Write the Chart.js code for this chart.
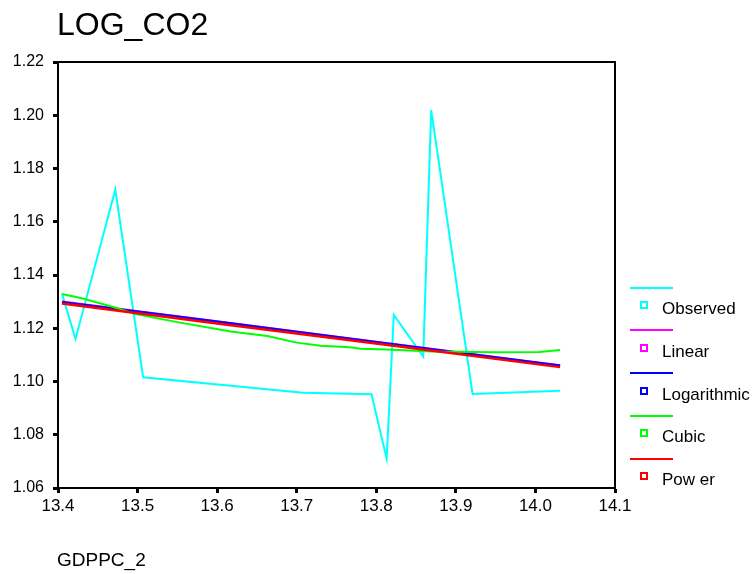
<!DOCTYPE html>
<html lang="en">
<head>
    <meta charset="UTF-8">
    <script src="https://cdn.jsdelivr.net/npm/chart.js@4.4.1/dist/chart.umd.min.js"></script>
    <title>LOG_CO2</title>
    <style>
        body { margin: 0; background: #fff; font-family: "Liberation Sans", Arial, sans-serif; }
        .wrap { position: relative; width: 754px; height: 574px; }
        .lbl { position: absolute; color: #000; white-space: nowrap; }
        .title { left: 57px; top: 8px; font-size: 32px; line-height: 32px; }
        .xtitle { left: 57px; top: 550px; font-size: 19px; line-height: 19px; }
        .legline { position: absolute; left: 630px; width: 43px; height: 2px; }
        .legbox { position: absolute; left: 640px; width: 4px; height: 4px; border: 2px solid; background: #fff; }
        .legtext { position: absolute; left: 662px; font-size: 17px; line-height: 17px; }
    </style>
</head>
<body>
    <div class="wrap" id="wrap">
        <canvas id="chart" width="754" height="574"></canvas>
        <div class="lbl title">LOG_CO2</div>
        <div class="lbl xtitle">GDPPC_2</div>
    </div>

    <script>
        // values
        const obsX = [13.405, 13.422, 13.472, 13.507, 13.708, 13.794, 13.813, 13.822, 13.859, 13.869, 13.921, 14.031];
        const obsY = [1.133, 1.116, 1.172, 1.1016, 1.0958, 1.0952, 1.071, 1.125, 1.1094, 1.202, 1.0953, 1.0965];

        const fitX = [13.405, 13.6, 13.817, 14.031];
        const linearY = [1.1300, 1.1225, 1.1142, 1.1060];
        const logY = [1.1298, 1.1224, 1.1141, 1.1059];
        const powerY = [1.1293, 1.1218, 1.1136, 1.1054];

        const cubicX = [13.405, 13.43, 13.474, 13.496, 13.55, 13.617, 13.663, 13.70, 13.73, 13.767, 13.78, 13.813, 13.87, 13.95, 14.005, 14.031];
        const cubicY = [1.1329, 1.1313, 1.1276, 1.1254, 1.1223, 1.1188, 1.1171, 1.1146, 1.1134, 1.1129, 1.1123, 1.1120, 1.1113, 1.1110, 1.1111, 1.1118];

        const xTicks = [13.4, 13.5, 13.6, 13.7, 13.8, 13.9, 14.0, 14.1];
        const yTicks = [1.06, 1.08, 1.10, 1.12, 1.14, 1.16, 1.18, 1.20, 1.22];

        const names = ["Observed", "Linear", "Logarithmic", "Cubic", "Pow er"];
        const colors = ["#00ffff", "#ff00ff", "#0000ff", "#00ff00", "#ff0000"];

        function pts(xs, ys) {
            return xs.map((x, i) => ({ x: x, y: ys[i] }));
        }

        const series = [
            { data: pts(obsX, obsY), order: 4, width: 2 },
            { data: pts(fitX, linearY), order: 3, width: 2.5 },
            { data: pts(fitX, logY), order: 2, width: 2.5 },
            { data: pts(cubicX, cubicY), order: 1, width: 2 },
            { data: pts(fitX, powerY), order: 0, width: 2.5 }
        ];

        const frame = {
            id: "frame",
            afterDraw(chart) {
                const a = chart.chartArea;
                const ctx = chart.ctx;
                ctx.save();
                ctx.strokeStyle = "#000";
                ctx.lineWidth = 2;
                ctx.strokeRect(a.left, a.top, a.right - a.left, a.bottom - a.top);
                ctx.restore();
            }
        };

        new Chart("chart", {
            type: "line",
            data: {
                datasets: series.map((s, i) => ({
                    label: names[i],
                    data: s.data,
                    order: s.order,
                    borderColor: colors[i],
                    backgroundColor: colors[i],
                    borderWidth: s.width,
                    pointRadius: 0,
                    tension: 0,
                    fill: false
                }))
            },
            options: {
                responsive: false,
                animation: false,
                devicePixelRatio: 1,
                layout: { padding: { left: 0, top: 62, right: 139, bottom: 0 } },
                plugins: { legend: { display: false }, tooltip: { enabled: false }, title: { display: false } },
                scales: {
                    x: {
                        type: "linear",
                        min: xTicks[0],
                        max: xTicks[xTicks.length - 1],
                        afterBuildTicks: (scale) => { scale.ticks = xTicks.map(v => ({ value: v })); },
                        afterFit: (scale) => { scale.height = 86; },
                        ticks: {
                            color: "#000",
                            font: { family: "Liberation Sans", size: 17 },
                            padding: 3,
                            maxRotation: 0,
                            autoSkip: false,
                            callback: (v) => Number(v).toFixed(1)
                        },
                        grid: { drawOnChartArea: false, drawTicks: true, tickLength: 5, tickWidth: 3, tickColor: "#000" },
                        border: { color: "#000", width: 2 }
                    },
                    y: {
                        min: yTicks[0],
                        max: yTicks[yTicks.length - 1],
                        afterBuildTicks: (scale) => { scale.ticks = yTicks.map(v => ({ value: v })); },
                        afterFit: (scale) => { scale.width = 58; },
                        ticks: {
                            color: "#000",
                            font: { family: "Liberation Sans", size: 16 },
                            padding: 9,
                            autoSkip: false,
                            callback: (v) => Number(v).toFixed(2)
                        },
                        grid: { drawOnChartArea: false, drawTicks: true, tickLength: 5, tickWidth: 3, tickColor: "#000" },
                        border: { color: "#000", width: 2 }
                    }
                }
            },
            plugins: [frame]
        });

        // legend on the right, one line sample and one box per series
        const wrap = document.getElementById("wrap");
        names.forEach((name, i) => {
            const step = 42.75 * i;
            const line = document.createElement("div");
            line.className = "legline";
            line.style.top = (286.5 + step) + "px";
            line.style.background = colors[i];
            wrap.appendChild(line);

            const box = document.createElement("div");
            box.className = "legbox";
            box.style.top = (301 + step) + "px";
            box.style.borderColor = colors[i];
            wrap.appendChild(box);

            const text = document.createElement("div");
            text.className = "lbl legtext";
            text.style.top = (300 + step) + "px";
            text.textContent = name;
            wrap.appendChild(text);
        });
    </script>
</body>
</html>
